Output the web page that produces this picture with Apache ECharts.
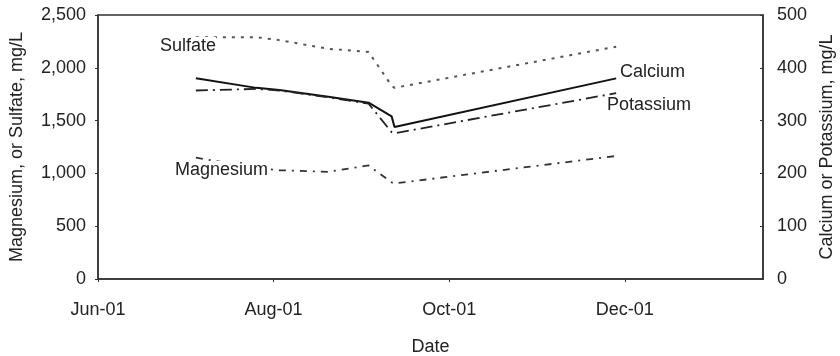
<!DOCTYPE html>
<html>
<head>
<meta charset="utf-8">
<script src="https://cdn.jsdelivr.net/npm/echarts@6/dist/echarts.min.js"></script>
<style>
  html, body { margin: 0; padding: 0; background: #fff; }
  #chart { width: 840px; height: 356px; }
</style>
</head>
<body>
<div id="chart"></div>
<script>
// sample dates and concentrations
var dates = ['2001-07-05', '2001-07-26', '2001-08-03', '2001-08-20', '2001-09-03', '2001-09-11', '2001-09-12', '2001-11-28'];
var sulfate = [2290, 2290, 2262, 2180, 2150, 1830, 1810, 2200];
var magnesium = [1150, 1050, 1030, 1015, 1075, 915, 905, 1165];
var calcium = [380, 362, 358, 345, 334, 308, 288, 380];
var potassium = [357, 360, 357, 344, 332, 278, 276, 352];
var tickLabels = ['Jun-01', 'Aug-01', 'Oct-01', 'Dec-01'];

var startDay = Date.UTC(2001, 5, 1);
function dayOf(s) {
  var p = s.split('-');
  return (Date.UTC(+p[0], +p[1] - 1, +p[2]) - startDay) / 86400000;
}
function pairs(vals) {
  var out = [];
  for (var i = 0; i < vals.length; i++) {
    out.push([dayOf(dates[i]), vals[i]]);
  }
  return out;
}

var font = 'Liberation Sans, Arial, sans-serif';
var ink = '#222';
var fs = 18;

var myChart = echarts.init(document.getElementById('chart'));
var option = {
  animation: false,
  grid: {
    left: 98, right: 77, top: 15, bottom: 77,
    outerBoundsMode: 'none', containLabel: false,
    show: true, borderColor: '#333', borderWidth: 1.5
  },
  xAxis: {
    type: 'value',
    min: 0,
    max: 231,
    interval: 61,
    name: 'Date',
    nameLocation: 'middle',
    nameGap: 59,
    nameTextStyle: { fontFamily: font, fontSize: fs, color: ink },
    axisLine: { lineStyle: { color: '#333', width: 1.5 } },
    axisTick: { show: true, length: 3, lineStyle: { color: '#333' } },
    splitLine: { show: false },
    axisLabel: {
      margin: 22,
      fontFamily: font, fontSize: fs, color: ink,
      showMaxLabel: false,
      formatter: function (v) {
        var k = Math.round(v / 61);
        return (Math.abs(v - k * 61) < 0.01 && tickLabels[k]) ? tickLabels[k] : '';
      }
    }
  },
  yAxis: [{
    type: 'value',
    min: 0,
    max: 2500,
    interval: 500,
    name: 'Magnesium, or Sulfate, mg/L',
    nameLocation: 'middle',
    nameGap: 72,
    nameTextStyle: { fontFamily: font, fontSize: fs, color: ink },
    axisLine: { show: true, lineStyle: { color: '#333', width: 1.5 } },
    axisTick: { show: true, length: 3, lineStyle: { color: '#333' } },
    splitLine: { show: false },
    axisLabel: {
      margin: 12,
      fontFamily: font, fontSize: fs, color: ink,
      formatter: function (v) { return v.toLocaleString('en-US'); }
    }
  }, {
    type: 'value',
    min: 0,
    max: 500,
    interval: 100,
    name: 'Calcium or Potassium, mg/L',
    nameLocation: 'middle',
    nameGap: 55,
    nameTextStyle: { fontFamily: font, fontSize: fs, color: ink },
    axisLine: { show: true, lineStyle: { color: '#333', width: 1.5 } },
    axisTick: { show: true, inside: true, length: 3, lineStyle: { color: '#333' } },
    splitLine: { show: false },
    axisLabel: { margin: 14, fontFamily: font, fontSize: fs, color: ink }
  }],
  series: [{
    name: 'Sulfate',
    type: 'line',
    yAxisIndex: 0,
    data: pairs(sulfate),
    symbol: 'none',
    lineStyle: { color: '#555', width: 2, type: [3, 6] }
  }, {
    name: 'Magnesium',
    type: 'line',
    yAxisIndex: 0,
    data: pairs(magnesium),
    symbol: 'none',
    lineStyle: { color: '#333', width: 1.8, type: [7, 6, 2, 6] }
  }, {
    name: 'Calcium',
    type: 'line',
    yAxisIndex: 1,
    data: pairs(calcium),
    symbol: 'none',
    lineStyle: { color: '#111', width: 2 }
  }, {
    name: 'Potassium',
    type: 'line',
    yAxisIndex: 1,
    data: pairs(potassium),
    symbol: 'none',
    lineStyle: { color: '#222', width: 1.8, type: [12, 5, 2, 5] }
  }],
  graphic: [
    { type: 'text', left: 160, top: 37, z: 100, style: { text: 'Sulfate', font: fs + 'px ' + font, fill: ink, backgroundColor: '#fff' } },
    { type: 'text', left: 175, top: 161, z: 100, style: { text: 'Magnesium', font: fs + 'px ' + font, fill: ink, backgroundColor: '#fff' } },
    { type: 'text', left: 620, top: 63, z: 100, style: { text: 'Calcium', font: fs + 'px ' + font, fill: ink } },
    { type: 'text', left: 607, top: 96, z: 100, style: { text: 'Potassium', font: fs + 'px ' + font, fill: ink } }
  ]
};
myChart.setOption(option);
</script>
</body>
</html>
